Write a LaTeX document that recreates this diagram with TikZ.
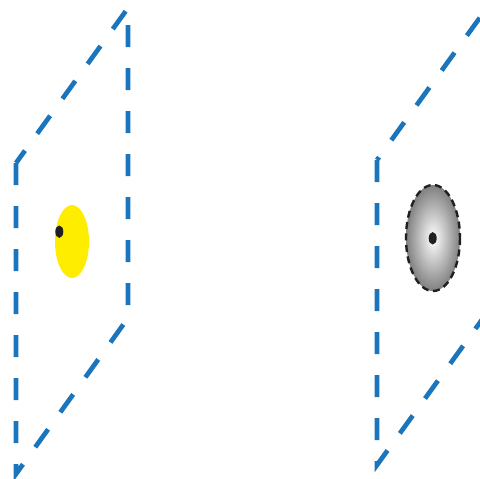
\documentclass[tikz,border=0pt]{standalone}
\usepackage{xcolor}
\usepackage{tikz}
\usetikzlibrary{calc}
\definecolor{PlaneBlue}{HTML}{1B75BC}
\definecolor{SpotYellow}{HTML}{FFED00}
\definecolor{DotBlack}{HTML}{231F20}
\colorlet{PlaneEdge}{PlaneBlue}
\colorlet{SpotRim}{DotBlack}
\tikzset{
  plane/.style={draw=PlaneEdge, line width=4.7pt, dash pattern=on 22pt off 21pt, line join=miter},
  rim/.style={draw=SpotRim, line width=2.4pt, dash pattern=on 7pt off 4.5pt},
  dot/.style={fill=DotBlack}
}

\begin{document}
\begin{tikzpicture}[x=1pt, y=-1pt]
  \useasboundingbox (0,0) rectangle (480,479);
  \clip (0,0) rectangle (480,479);

  % left plane with yellow spot
  \coordinate (lpA) at (16,163);
  \coordinate (lpB) at (16,474);
  \coordinate (lpC) at (128,318);
  \coordinate (lpD) at (128,8);
  \draw[plane] (lpA) -- (lpB) -- (lpC) -- (lpD) -- cycle;
  \fill[SpotYellow] (72,241.5) ellipse [x radius=17, y radius=36.5];
  \fill[dot] (59.3,231.7) ellipse [x radius=4, y radius=6.2];

  % right plane, cut by the border
  \coordinate (rpA) at (377,160);
  \coordinate (rpB) at (377,465);
  \coordinate (rpC) at (489,310);
  \coordinate (rpD) at (489,5);
  \draw[plane] (rpA) -- (rpB) -- (rpC) -- (rpD) -- cycle;
  \shade[inner color=white, outer color=black!50] (433,238) ellipse [x radius=27, y radius=53];
  \draw[rim] (433,238) ellipse [x radius=27, y radius=53];
  \fill[dot] (432.7,238.3) ellipse [x radius=4, y radius=6.2];
\end{tikzpicture}
\end{document}
